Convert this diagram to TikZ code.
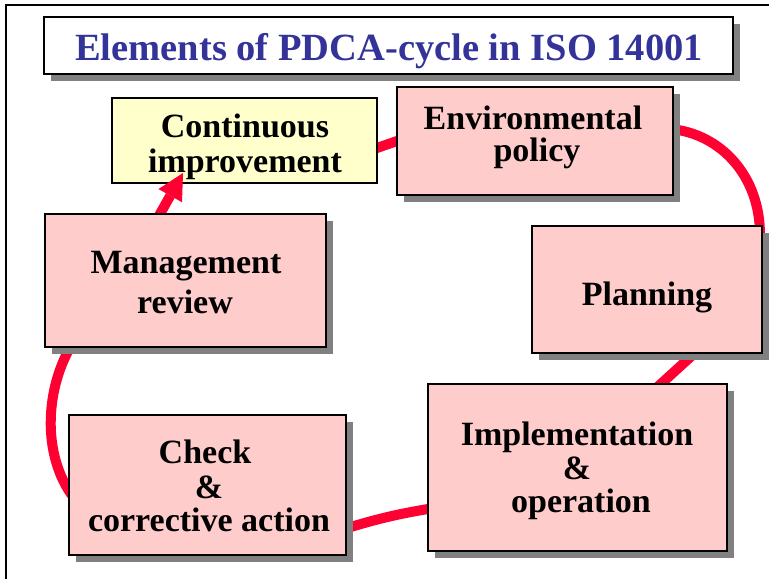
\documentclass[tikz,border=0pt]{standalone}
\usepackage{fontspec}
\setmainfont{Liberation Serif}
\usetikzlibrary{arrows.meta,shadows}
\definecolor{ringred}{HTML}{FF0033}
\definecolor{pinkfill}{HTML}{FFCCCC}
\definecolor{yellowfill}{HTML}{FFFFCC}
\definecolor{shadowgray}{HTML}{808080}
\definecolor{titleblue}{HTML}{333399}
\pgfdeclarelayer{bottom}
\pgfdeclarelayer{back}
\pgfdeclarelayer{mid}
\pgfsetlayers{bottom,back,mid,main}
\begin{document}
\begin{tikzpicture}[x=1pt,y=1pt,
  shadowed/.style={drop shadow={fill=shadowgray, opacity=1, shadow xshift=7pt, shadow yshift=-7pt}},
  box/.style={draw=black, line width=2pt, fill=pinkfill, inner sep=0pt, shadowed},
  cibox/.style={draw=black, line width=2pt, fill=yellowfill, inner sep=0pt},
  titlebox/.style={draw=black, line width=1.2pt, fill=white, inner sep=0pt, shadowed},
  txt/.style={anchor=base, font=\fontsize{34}{35}\selectfont\bfseries, inner sep=0pt},
  titletxt/.style={anchor=base, font=\fontsize{38.5}{40}\selectfont\bfseries, text=titleblue, inner sep=0pt},
  ring/.style={draw=ringred, line width=10pt},
]
\useasboundingbox (0,0) rectangle (769,-579);
% frame
\draw[line width=2pt] (6,-579) -- (6,-4.5) -- (769,-4.5);
% title
\node[titlebox, minimum width=689, minimum height=57] (title) at (388.5,-45.5) {};
\node[titletxt] (titlet) at (389,-60) {Elements of PDCA-cycle in ISO 14001};
% continuous improvement (below the arrow)
\begin{pgfonlayer}{back}
\node[cibox, minimum width=265, minimum height=85] (ci) at (244.5,-140.5) {};
\node[txt] (ci1) at (245,-137) {Continuous};
\node[txt] (ci2) at (245,-172) {improvement};
\end{pgfonlayer}
% boxes
\node[box, minimum width=276, minimum height=108] (env) at (535,-141) {};
\node[txt] (env1) at (533,-129) {Environmental};
\node[txt] (env2) at (537,-161) {policy};
\node[box, minimum width=230, minimum height=127] (plan) at (647,-289.5) {};
\node[txt] (plan1) at (647,-305) {Planning};
\node[box, minimum width=299, minimum height=167] (impl) at (577.5,-467.5) {};
\node[txt] (impl1) at (577,-445) {Implementation};
\node[txt] (impl2) at (577,-479) {\&};
\node[txt] (impl3) at (581,-512) {operation};
\node[box, minimum width=277, minimum height=140] (check) at (207.5,-485) {};
\node[txt] (check1) at (205,-463) {Check};
\node[txt] (check2) at (209,-498) {\&};
\node[txt] (check3) at (209,-531) {corrective action};
\node[box, minimum width=281, minimum height=133] (mgmt) at (185.5,-280.5) {};
\node[txt] (mgmt1) at (186,-273) {Management};
\node[txt] (mgmt2) at (185,-313) {review};
% ring behind all boxes
\begin{pgfonlayer}{bottom}
\fill[white] (0,0) rectangle (769,-579);
\draw[ring] ([shift={(-7,-9.5)}]ci.east) -- ([shift={(7,2)}]env.west);
\draw[ring] ([shift={(-3,12)}]env.east) .. controls +(50,-5) and +(0,59) .. ([shift={(-3,-10)}]plan.north east);
\draw[ring] ([shift={(50,3)}]plan.south) -- ([shift={(74.5,-9)}]impl.north);
\draw[ring] ([shift={(7,-40.5)}]impl.west) to[bend right=4] ([shift={(-6,-45)}]check.east);
\draw[ring] ([shift={(6,-13)}]check.west) .. controls +(-33,43) and +(-29,-45) .. ([shift={(30,7)}]mgmt.south west);
\end{pgfonlayer}
% arrow into continuous improvement
\begin{pgfonlayer}{mid}
\draw[ring, -{Triangle[length=26pt, width=27pt, line width=0pt]}] ([shift={(-34,-16)}]mgmt.north) -- ([shift={(-61.5,11)}]ci.south);
\end{pgfonlayer}
\end{tikzpicture}
\end{document}
